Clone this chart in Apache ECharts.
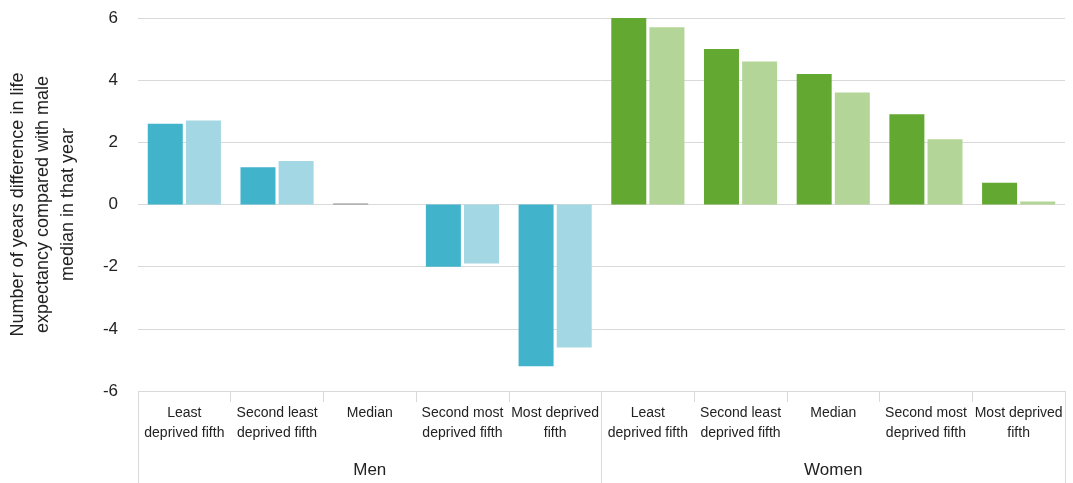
<!DOCTYPE html>
<html>
<head>
<meta charset="utf-8">
<script src="https://cdn.jsdelivr.net/npm/echarts@6/dist/echarts.min.js"></script>
<style>html,body{margin:0;padding:0;background:#fff}#c{width:1073px;height:483px}</style>
</head>
<body>
<div id="c"></div>
<script>
const categories = ['Least\ndeprived fifth','Second least\ndeprived fifth','Median','Second most\ndeprived fifth','Most deprived\nfifth',
                    'Least\ndeprived fifth','Second least\ndeprived fifth','Median','Second most\ndeprived fifth','Most deprived\nfifth'];
const groups = ['Men','Women'];
const earlierYear = [2.6, 1.2, 0.03, -2.0, -5.2, 6.0, 5.0, 4.2, 2.9, 0.7];
const laterYear   = [2.7, 1.4, 0,    -1.9, -4.6, 5.7, 4.6, 3.6, 2.1, 0.1];
const yTicks = [-6, -4, -2, 0, 2, 4, 6];

const darkColors = ['#41b3cb','#63a931'];
const lightColors = ['#a3d7e3','#b3d698'];
const medianMarkIndex = 2;

const chart = echarts.init(document.getElementById('c'));
const font = 'Liberation Sans, Arial, sans-serif';
chart.setOption({
  animation: false,
  grid: {left: 138, right: 8, top: 18, bottom: 92, containLabel: false, outerBoundsMode: 'none'},
  xAxis: [{
    type: 'category', data: categories, position: 'bottom',
    axisLine: {show: false, onZero: false},
    axisTick: {show: true, length: 11, lineStyle: {color: '#d9d9d9', width: 1}},
    axisLabel: {interval: 0, fontFamily: font, fontSize: 14, color: '#222', lineHeight: 20, margin: 12}
  }, {
    type: 'category', data: groups, position: 'bottom',
    axisLine: {show: false, onZero: false},
    axisTick: {show: true, length: 92, lineStyle: {color: '#d9d9d9', width: 1}},
    axisLabel: {fontFamily: font, fontSize: 17, color: '#222', margin: 71}
  }],
  yAxis: {
    type: 'value', min: yTicks[0], max: yTicks[yTicks.length-1], interval: 2,
    axisLine: {show: false}, axisTick: {show: false},
    splitLine: {lineStyle: {color: '#d9d9d9', width: 1}},
    axisLabel: {fontFamily: font, fontSize: 17, color: '#222', margin: 20},
    name: 'Number of years difference in life\nexpectancy compared with male\nmedian in that year',
    nameLocation: 'middle', nameGap: 57, nameRotate: 90,
    nameTextStyle: {fontFamily: font, fontSize: 18, color: '#222', lineHeight: 25}
  },
  series: [{
    type: 'bar', xAxisIndex: 0, data: earlierYear, barWidth: 35, barGap: '9%',
    itemStyle: {color: p => p.dataIndex === medianMarkIndex ? '#8c8c8c' : darkColors[p.dataIndex < 5 ? 0 : 1]}
  }, {
    type: 'bar', xAxisIndex: 0, data: laterYear, barWidth: 35, barGap: '9%',
    itemStyle: {color: p => lightColors[p.dataIndex < 5 ? 0 : 1]}
  }]
});
</script>
</body>
</html>
